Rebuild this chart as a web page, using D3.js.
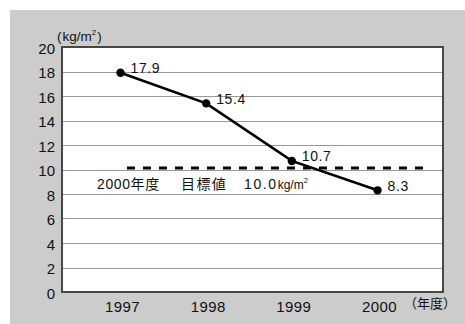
<!DOCTYPE html>
<html>
<head>
<meta charset="utf-8">
<script src="https://cdn.jsdelivr.net/npm/d3@7"></script>
<style>
  html, body { margin: 0; padding: 0; background: #fff; }
  svg { display: block; }
  text { font-family: "Liberation Sans", Arial, "Noto Sans CJK JP", sans-serif; fill: #111; }
  .jp { font-family: "Liberation Sans", "Noto Sans CJK JP", sans-serif; }
</style>
</head>
<body>
<svg id="chart" width="465" height="324"></svg>
<script>
// Per-area amount by fiscal year
const years = ["1997", "1998", "1999", "2000"];
const values = [17.9, 15.4, 10.7, 8.3];
const yTicks = [0, 2, 4, 6, 8, 10, 12, 14, 16, 18, 20];
const targetValue = 10.0;
const targetParts = ["2000年度", "目標値", "10.0"];
const unitLabel = "kg/m";
const xUnitLabel = "（年度）";

const svg = d3.select("#chart");
const W = 465, H = 324;
const plot = { left: 62, right: 443, top: 47, bottom: 292 };

// Grey panel behind the chart
svg.append("rect")
  .attr("x", 10).attr("y", 10)
  .attr("width", W - 10).attr("height", H - 10)
  .attr("fill", "#cccccc");

// Plot area
svg.append("rect")
  .attr("x", plot.left).attr("y", plot.top)
  .attr("width", plot.right - plot.left).attr("height", plot.bottom - plot.top)
  .attr("fill", "#ffffff");

const x = d3.scalePoint().domain(years).range([120.5, 377.5]);
const y = d3.scaleLinear().domain([0, 20]).range([plot.bottom, plot.top]);

// Horizontal grid lines
svg.append("g")
  .selectAll("line")
  .data(yTicks.filter(t => t > 0 && t < 20))
  .join("line")
  .attr("x1", plot.left).attr("x2", plot.right)
  .attr("y1", d => Math.round(y(d)) + 0.5).attr("y2", d => Math.round(y(d)) + 0.5)
  .attr("stroke", "#9a9a9a").attr("stroke-width", 1);

// Frame
svg.append("rect")
  .attr("x", plot.left).attr("y", plot.top)
  .attr("width", plot.right - plot.left).attr("height", plot.bottom - plot.top)
  .attr("fill", "none").attr("stroke", "#474747").attr("stroke-width", 2);

// Y axis labels
const yAxis = d3.axisLeft(y).tickValues(yTicks).tickSize(0).tickPadding(7);
const gy = svg.append("g").attr("transform", `translate(${plot.left},0)`).call(yAxis);
gy.select(".domain").remove();
gy.selectAll("text")
  .attr("font-size", 15)
  .attr("font-family", "Liberation Sans, Arial, sans-serif")
  .attr("fill", "#111")
  .attr("dy", "0.42em");

// X axis labels
const xAxis = d3.axisBottom(x).tickSize(0).tickPadding(9);
const gx = svg.append("g").attr("transform", `translate(1.5,0)`).attr("transform", `translate(1.5,${plot.bottom})`).call(xAxis);
gx.select(".domain").remove();
gx.selectAll("text")
  .attr("font-size", 15)
  .attr("font-family", "Liberation Sans, Arial, sans-serif")
  .attr("fill", "#111")
  .attr("letter-spacing", 0.4);

// Unit labels
const unit = svg.append("text")
  .attr("x", 57).attr("y", 41)
  .attr("font-size", 13.5);
unit.append("tspan").text("(");
unit.append("tspan").attr("dx", 1).text(unitLabel);
unit.append("tspan").attr("font-size", 8).attr("dy", -6).text("2");
unit.append("tspan").attr("dy", 6).attr("dx", 1).text(")");

svg.append("text")
  .attr("class", "jp")
  .attr("x", 404).attr("y", 308)
  .attr("font-size", 13)
  .text(xUnitLabel);

// Target line (dashed)
svg.append("line")
  .attr("x1", 127).attr("x2", 427)
  .attr("y1", y(targetValue) - 1.5).attr("y2", y(targetValue) - 1.5)
  .attr("stroke", "#000").attr("stroke-width", 2.8)
  .attr("stroke-dasharray", "8,8");

// Target caption
const capY = y(targetValue) + 19.5;
svg.append("text")
  .attr("class", "jp")
  .attr("x", 97).attr("y", capY)
  .attr("font-size", 14).attr("letter-spacing", 0.6)
  .text(targetParts[0]);
svg.append("text")
  .attr("class", "jp")
  .attr("x", 181).attr("y", capY)
  .attr("font-size", 14).attr("letter-spacing", 1.4)
  .text(targetParts[1]);
const capVal = svg.append("text")
  .attr("x", 244).attr("y", capY)
  .attr("font-size", 14);
capVal.append("tspan").attr("letter-spacing", 1.6).text(targetParts[2]);
capVal.append("tspan").attr("font-size", 12).text("kg/m");
capVal.append("tspan").attr("font-size", 7.5).attr("dy", -6).text("2");

// Series line
const pts = years.map((yr, i) => ({ year: yr, value: values[i] }));
svg.append("path")
  .datum(pts)
  .attr("fill", "none")
  .attr("stroke", "#000")
  .attr("stroke-width", 2.6)
  .attr("d", d3.line().x(d => x(d.year)).y(d => y(d.value)));

svg.append("g")
  .selectAll("circle")
  .data(pts)
  .join("circle")
  .attr("cx", d => x(d.year)).attr("cy", d => y(d.value))
  .attr("r", 4.2).attr("fill", "#000");

// Value labels
svg.append("g")
  .selectAll("text")
  .data(pts)
  .join("text")
  .attr("x", d => x(d.year) + 10)
  .attr("y", d => y(d.value) + 0.5)
  .attr("font-size", 14)
  .attr("letter-spacing", 0.6)
  .text(d => d.value.toFixed(1));
</script>
</body>
</html>
